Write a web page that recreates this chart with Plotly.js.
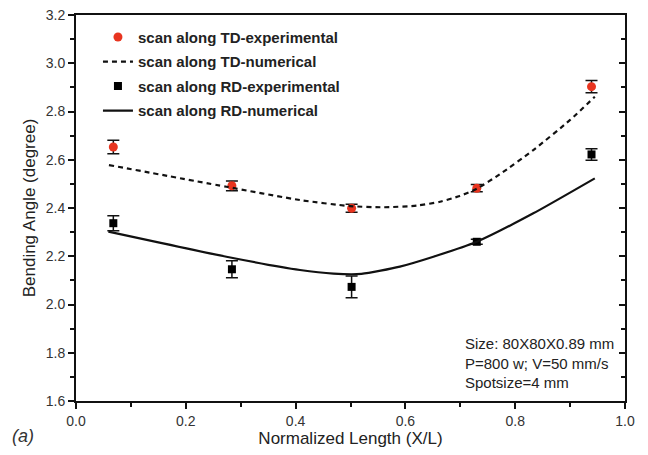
<!DOCTYPE html>
<html>
<head>
<meta charset="utf-8">
<script src="https://cdn.plot.ly/plotly-3.0.1.min.js"></script>
<style>html,body{margin:0;padding:0;background:#fff;}#chart{width:648px;height:455px;}</style>
</head>
<body>
<div id="chart"></div>
<script>
// Experimental data
var expX = [0.068, 0.284, 0.502, 0.730, 0.939];
var tdExpY = [2.653, 2.492, 2.399, 2.482, 2.903];
var tdExpErr = [0.028, 0.020, 0.017, 0.015, 0.025];
var rdExpY = [2.337, 2.146, 2.073, 2.260, 2.622];
var rdExpErr = [0.031, 0.035, 0.045, 0.010, 0.024];

// Numerical curves
var tdNumX = [0.060, 0.274, 0.408, 0.499, 0.560, 0.621, 0.663, 0.699, 0.730, 0.772, 0.833, 0.900, 0.945];
var tdNumY = [2.578, 2.488, 2.433, 2.408, 2.403, 2.410, 2.426, 2.450, 2.480, 2.540, 2.640, 2.765, 2.861];
var rdNumX = [0.059, 0.274, 0.408, 0.469, 0.520, 0.590, 0.651, 0.730, 0.833, 0.945];
var rdNumY = [2.302, 2.198, 2.143, 2.128, 2.127, 2.157, 2.198, 2.260, 2.378, 2.523];

var xTicks = [0.0, 0.2, 0.4, 0.6, 0.8, 1.0];
var yTicks = [1.6, 1.8, 2.0, 2.2, 2.4, 2.6, 2.8, 3.0, 3.2];
var noteLines = ["Size: 80X80X0.89 mm", "P=800 w; V=50 mm/s", "Spotsize=4 mm"];

var red = "#e8341f";
var font = "Liberation Sans, Arial, sans-serif";

var traces = [
  {x: expX, y: tdExpY, type: "scatter", mode: "markers", name: "scan along TD-experimental",
   legendgroup: "a",
   marker: {color: red, size: 9, symbol: "circle"},
   error_y: {type: "data", array: tdExpErr, visible: true, color: "#111", thickness: 1.5, width: 6}},
  {x: tdNumX, y: tdNumY, type: "scatter", mode: "lines", name: "scan along TD-numerical",
   legendgroup: "b",
   line: {color: "#111", width: 2.2, dash: "5px,4px", shape: "spline", smoothing: 0.6}},
  {x: expX, y: rdExpY, type: "scatter", mode: "markers", name: "scan along RD-experimental",
   legendgroup: "c",
   marker: {color: "#000", size: 8, symbol: "square"},
   error_y: {type: "data", array: rdExpErr, visible: true, color: "#111", thickness: 1.5, width: 6}},
  {x: rdNumX, y: rdNumY, type: "scatter", mode: "lines", name: "scan along RD-numerical",
   legendgroup: "d",
   line: {color: "#111", width: 2.2, shape: "spline", smoothing: 0.6}},
  {x: [0.5], y: [2.4], yaxis: "y2", type: "scatter", mode: "markers", showlegend: false,
   marker: {opacity: 0}, hoverinfo: "skip"}
];

var layout = {
  width: 648, height: 455,
  margin: {l: 76, r: 23, t: 15, b: 54},
  paper_bgcolor: "#fff", plot_bgcolor: "#fff",
  font: {family: font, color: "#222"},
  showlegend: true,
  legend: {x: 0.04, y: 0.985, xanchor: "left", yanchor: "top", bgcolor: "rgba(0,0,0,0)",
           font: {family: font, size: 15, color: "#222", weight: "bold"},
           traceorder: "grouped", tracegroupgap: 2},
  xaxis: {range: [0, 1], tickvals: xTicks, ticktext: xTicks.map(function(v){return v.toFixed(1);}),
          showgrid: false, zeroline: false, showline: true, linecolor: "#111", linewidth: 2,
          mirror: true, ticks: "outside", ticklen: 6, tickwidth: 2, tickcolor: "#111",
          minor: {dtick: 0.1, ticks: "outside", ticklen: 4, tickwidth: 2, tickcolor: "#111"},
          tickfont: {size: 14, color: "#333"},
          title: {text: "Normalized Length (X/L)", font: {size: 17, color: "#222"}, standoff: 4}},
  yaxis: {range: [1.6, 3.2], tickvals: yTicks, ticktext: yTicks.map(function(v){return v.toFixed(1);}),
          showgrid: false, zeroline: false, showline: true, linecolor: "#111", linewidth: 2,
          mirror: true, ticks: "outside", ticklen: 6, tickwidth: 2, tickcolor: "#111",
          minor: {dtick: 0.1, ticks: "outside", ticklen: 4, tickwidth: 2, tickcolor: "#111"},
          tickfont: {size: 14, color: "#333"},
          title: {text: "Bending Angle (degree)", font: {size: 17, color: "#222"}, standoff: 6}},
  yaxis2: {overlaying: "y", side: "right", range: [1.6, 3.2], tickvals: yTicks, showticklabels: false,
           showgrid: false, zeroline: false, ticks: "inside", ticklen: 6, tickwidth: 2, tickcolor: "#111",
           minor: {dtick: 0.1, ticks: "inside", ticklen: 4, tickwidth: 2, tickcolor: "#111"}},
  annotations: [
    {xref: "x", yref: "y", x: 0.704, y: 1.88, xanchor: "left", yanchor: "top", align: "left",
     showarrow: false, text: noteLines.join("<br>"), font: {size: 15, color: "#222"}},
    {xref: "paper", yref: "paper", x: -0.12, y: -0.09, xanchor: "left", yanchor: "middle",
     showarrow: false, text: "<i>(a)</i>", font: {size: 18, color: "#333"}}
  ]
};

Plotly.newPlot("chart", traces, layout, {displayModeBar: false, staticPlot: true});
</script>
</body>
</html>
